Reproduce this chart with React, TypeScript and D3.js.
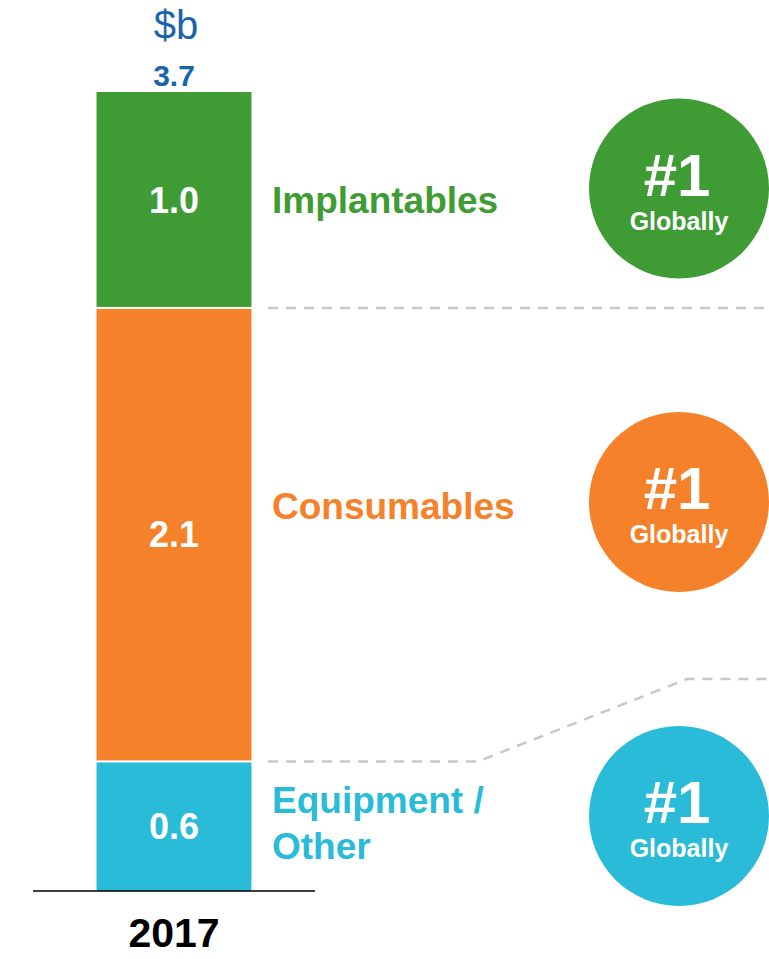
import React from "react";
import * as d3 from "d3";

const categories = ["Equipment / Other", "Consumables", "Implantables"];
const values = [0.6, 2.1, 1.0];
const valueLabels = ["0.6", "2.1", "1.0"];
const labelLines = [["Equipment /", "Other"], ["Consumables"], ["Implantables"]];
const colors = ["#29bbd8", "#f5822a", "#3f9c35"];
const badgeTop = ["#1", "#1", "#1"];
const badgeBottom = ["Globally", "Globally", "Globally"];
const year = "2017";
const totalLabel = "3.7";
const unitLabel = "$b";

const W = 769;
const H = 959;
const FONT = "'Liberation Sans', Arial, sans-serif";

export default function App() {
  const total = d3.sum(values);
  const y = d3.scaleLinear().domain([0, 3.7]).range([891, 92]);
  const x = d3.scaleBand().domain([year]).range([33, 315]).paddingInner(0).paddingOuter(0.41);
  const bx = x(year)!;
  const bw = x.bandwidth();
  let acc = 0;
  const segs = values.map((v, i) => {
    const s = { v, i, y0: acc, y1: acc + v };
    acc += v;
    return s;
  });
  const badgeCy = [816, 502, 188.5];
  const labelY = [[813, 859], [519], [213]];
  const topBoundary = y(segs[1].y1);
  const lowBoundary = y(segs[0].y1);
  const lowPath = d3.line()([
    [268, lowBoundary],
    [478, lowBoundary],
    [687, 679],
    [769, 679],
  ]);
  return (
    <svg width={W} height={H} style={{ position: "absolute", left: 0, top: 0 }} fontFamily={FONT}>
      <rect width={W} height={H} fill="#fff" />
      <text x={bx + bw / 2 + 2} y={39} textAnchor="middle" fontSize={40} fill="#1a64ad">{unitLabel}</text>
      <text x={bx + bw / 2} y={86} textAnchor="middle" fontSize={30} fontWeight="bold" fill="#1a64ad">{totalLabel}</text>
      {segs.map((s) => (
        <g key={categories[s.i]}>
          <rect
            x={bx}
            width={bw}
            y={y(s.y1) + (s.i < 2 ? 1 : 0)}
            height={y(s.y0) - y(s.y1) - (s.i < 2 ? 1 : 0) - (s.i > 0 ? 1 : 0)}
            fill={colors[s.i]}
          />
          <text
            x={bx + bw / 2}
            y={(y(s.y0) + y(s.y1)) / 2 + 12.8}
            textAnchor="middle"
            fontSize={36}
            fontWeight="bold"
            fill="#fff"
          >
            {valueLabels[s.i]}
          </text>
          {labelLines[s.i].map((t, j) => (
            <text key={t} x={272} y={labelY[s.i][j]} fontSize={37} fontWeight="bold" fill={colors[s.i]}>
              {t}
            </text>
          ))}
          <circle cx={679} cy={badgeCy[s.i]} r={90} fill={colors[s.i]} />
          <text x={677} y={badgeCy[s.i] + 7} textAnchor="middle" fontSize={60} fontWeight="bold" fill="#fff">
            {badgeTop[s.i]}
          </text>
          <text x={679} y={badgeCy[s.i] + 41} textAnchor="middle" fontSize={25} fontWeight="bold" fill="#fff">
            {badgeBottom[s.i]}
          </text>
        </g>
      ))}
      <line x1={268} x2={769} y1={topBoundary} y2={topBoundary} stroke="#c8c8c8" strokeWidth={2.5} strokeDasharray="10 8" />
      <path d={lowPath ?? ""} fill="none" stroke="#c8c8c8" strokeWidth={2.5} strokeDasharray="10 8" />
      <line x1={33} x2={315} y1={891} y2={891} stroke="#000" strokeWidth={1.5} />
      <text x={bx + bw / 2} y={947} textAnchor="middle" fontSize={41} fontWeight="bold" fill="#000">{year}</text>
      <desc>{`total ${total}`}</desc>
    </svg>
  );
}
